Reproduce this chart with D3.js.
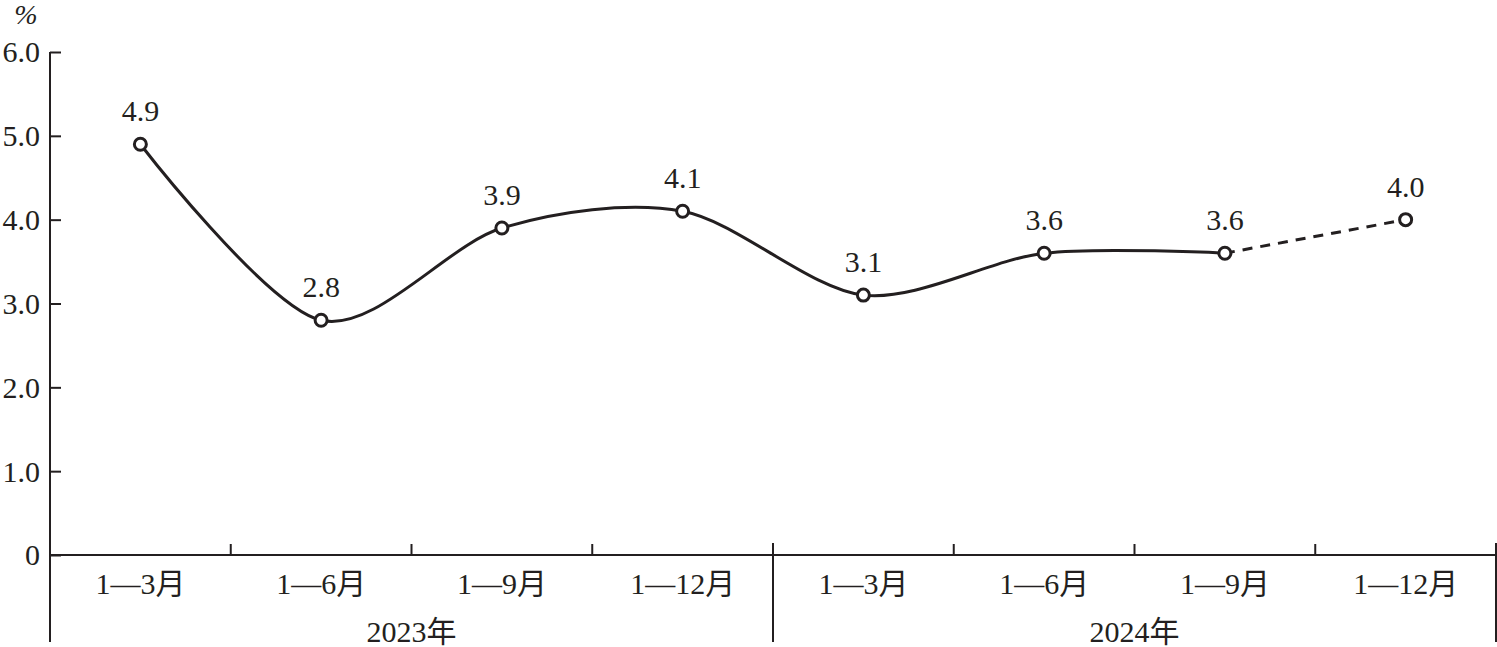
<!DOCTYPE html>
<html>
<head>
<meta charset="utf-8">
<script src="https://cdn.jsdelivr.net/npm/d3@7"></script>
<style>
  body { margin: 0; background: #fff; }
  text { font-family: "Liberation Serif", "Noto Sans CJK SC", serif; fill: #231f20; }
</style>
</head>
<body>
<svg width="1497" height="647"></svg>
<script>
const periods = ["1—3月", "1—6月", "1—9月", "1—12月", "1—3月", "1—6月", "1—9月", "1—12月"];
const years = ["2023年", "2024年"];
const values = [4.9, 2.8, 3.9, 4.1, 3.1, 3.6, 3.6, 4.0];
const yTicks = [0, 1, 2, 3, 4, 5, 6];

const svg = d3.select("svg");
const ink = "#231f20";
const fs = 30;

const plotLeft = 50, plotRight = 1496, plotTop = 52, plotBottom = 555;

const x = d3.scaleBand()
    .domain(d3.range(periods.length))
    .range([plotLeft, plotRight]);

const y = d3.scaleLinear()
    .domain([0, 6])
    .range([plotBottom, plotTop]);

// y axis
const yAxis = svg.append("g")
    .attr("transform", `translate(${plotLeft},0)`)
    .call(d3.axisLeft(y).tickValues(yTicks).tickSize(-11).tickPadding(10)
        .tickFormat(d => d === 0 ? "0" : d3.format(".1f")(d)));
yAxis.select(".domain").remove();
yAxis.selectAll("line").attr("stroke", ink).attr("stroke-width", 2);
yAxis.selectAll("text").attr("font-size", fs).attr("dy", "0.33em").style("fill", ink);

svg.append("line")
    .attr("x1", plotLeft).attr("x2", plotLeft)
    .attr("y1", plotTop).attr("y2", 642)
    .attr("stroke", ink).attr("stroke-width", 2);

svg.append("text")
    .attr("x", 26).attr("y", 24)
    .attr("text-anchor", "middle")
    .attr("font-size", 28)
    .attr("font-style", "italic")
    .text("%");

// x axis
svg.append("line")
    .attr("x1", plotLeft).attr("x2", plotRight)
    .attr("y1", plotBottom).attr("y2", plotBottom)
    .attr("stroke", ink).attr("stroke-width", 2);

const bounds = d3.range(1, periods.length).map(i => x(i));
svg.selectAll(".xtick")
    .data(bounds)
    .enter().append("line")
    .attr("x1", d => d).attr("x2", d => d)
    .attr("y1", plotBottom).attr("y2", plotBottom - 11)
    .attr("stroke", ink).attr("stroke-width", 2);

// year separators
[x(4), plotRight].forEach(px => {
    svg.append("line")
        .attr("x1", px).attr("x2", px)
        .attr("y1", plotBottom - 12).attr("y2", 642)
        .attr("stroke", ink).attr("stroke-width", 2);
});

svg.selectAll(".plabel")
    .data(periods)
    .enter().append("text")
    .attr("x", (d, i) => x(i) + x.bandwidth() / 2)
    .attr("y", 594)
    .attr("text-anchor", "middle")
    .attr("font-size", fs)
    .text(d => d);

svg.selectAll(".ylabel")
    .data(years)
    .enter().append("text")
    .attr("x", (d, i) => x(i * 4) + x.bandwidth() * 2)
    .attr("y", 642)
    .attr("text-anchor", "middle")
    .attr("font-size", fs)
    .text(d => d);

// line
const pts = values.map((v, i) => [x(i) + x.bandwidth() / 2, y(v)]);
const line = d3.line().curve(d3.curveCardinal.tension(0.1));

svg.append("path")
    .attr("d", line(pts.slice(0, 7)))
    .attr("fill", "none")
    .attr("stroke", ink)
    .attr("stroke-width", 3);

svg.append("path")
    .attr("d", d3.line()(pts.slice(6)))
    .attr("fill", "none")
    .attr("stroke", ink)
    .attr("stroke-width", 3)
    .attr("stroke-dasharray", "10,8");

svg.selectAll(".dot")
    .data(pts)
    .enter().append("circle")
    .attr("cx", d => d[0])
    .attr("cy", d => d[1])
    .attr("r", 6)
    .attr("fill", "#fff")
    .attr("stroke", ink)
    .attr("stroke-width", 3);

svg.selectAll(".vlabel")
    .data(values)
    .enter().append("text")
    .attr("x", (d, i) => pts[i][0])
    .attr("y", (d, i) => pts[i][1] - 23)
    .attr("text-anchor", "middle")
    .attr("font-size", fs)
    .text(d => d3.format(".1f")(d));
</script>
</body>
</html>
